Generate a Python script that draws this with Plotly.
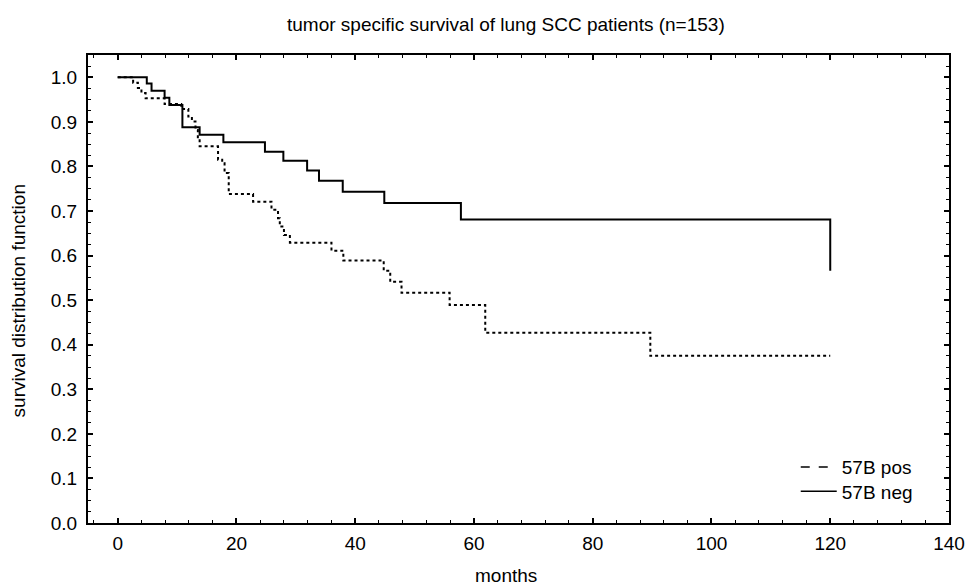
import plotly.graph_objects as go

# Kaplan-Meier step data
neg_months = [0, 4.9, 5.7, 7.9, 8.7, 10.9, 13.8, 17.8, 24.8, 27.9, 31.9, 33.9, 37.9, 44.9, 57.8, 120, 120]
neg_surv = [1.0, 0.986, 0.970, 0.954, 0.938, 0.888, 0.871, 0.854, 0.833, 0.813, 0.791, 0.768, 0.743, 0.718, 0.681, 0.681, 0.566]

pos_months = [0, 2.6, 3.4, 4.0, 4.7, 7.9, 10.7, 11.9, 12.5, 13.1, 13.5, 13.8, 16.9, 17.6, 18.0, 18.7,
              22.8, 25.9, 27.0, 27.3, 28.0, 29.0, 36.0, 38.0, 44.8, 45.9, 47.8, 55.9, 61.9, 89.7, 120]
pos_surv = [1.0, 0.988, 0.976, 0.965, 0.953, 0.940, 0.929, 0.912, 0.901, 0.882, 0.862, 0.845, 0.815, 0.807, 0.785, 0.738,
            0.721, 0.703, 0.684, 0.665, 0.646, 0.629, 0.611, 0.589, 0.566, 0.541, 0.5165, 0.489, 0.427, 0.375, 0.375]

series_names = ["57B pos", "57B neg"]
title_text = "tumor specific survival of lung SCC patients (n=153)"
x_title = "months"
y_title = "survival distribution function"
x_ticks = [0, 20, 40, 60, 80, 100, 120, 140]
y_ticks = [0.0, 0.1, 0.2, 0.3, 0.4, 0.5, 0.6, 0.7, 0.8, 0.9, 1.0]

FONT = "Liberation Sans, Arial, Helvetica, sans-serif"
FS = 19

fig = go.Figure()
fig.add_trace(go.Scatter(x=pos_months, y=pos_surv, mode="lines", line_shape="hv",
                         line=dict(color="black", width=2, dash="dot"), showlegend=False))
fig.add_trace(go.Scatter(x=neg_months, y=neg_surv, mode="lines", line_shape="hv",
                         line=dict(color="black", width=2), showlegend=False))
# legend entries (one legend per row so each row can be placed exactly)
fig.add_trace(go.Scatter(x=[None], y=[None], mode="lines", name=series_names[0], legend="legend",
                         line=dict(color="black", width=1.5, dash="dash")))
fig.add_trace(go.Scatter(x=[None], y=[None], mode="lines", name=series_names[1], legend="legend2",
                         line=dict(color="black", width=1.5)))

axis_common = dict(showline=True, linecolor="black", linewidth=2, mirror="allticks",
                   ticks="inside", ticklen=5, tickwidth=1.5, tickcolor="black",
                   showgrid=False, zeroline=False, automargin=False,
                   tickfont=dict(family=FONT, size=FS, color="black"))

fig.update_xaxes(range=[-5, 140], tickvals=x_ticks, ticklabelstandoff=2,
                 minor=dict(dtick=4, tick0=0, ticks="inside", ticklen=3, tickcolor="black", tickwidth=1),
                 **axis_common)
fig.update_yaxes(range=[0, 1.05], tickvals=y_ticks, tickformat=".1f", ticklabelstandoff=5,
                 minor=dict(dtick=0.025, tick0=0, ticks="inside", ticklen=3, tickcolor="black", tickwidth=1),
                 **axis_common)

legend_common = dict(xanchor="left", yanchor="top", bgcolor="rgba(0,0,0,0)",
                     font=dict(family=FONT, size=FS, color="black"), itemwidth=36)

fig.update_layout(
    width=966, height=587,
    margin=dict(l=88, r=17, t=55, b=64, autoexpand=False),
    paper_bgcolor="white", plot_bgcolor="white",
    font=dict(family=FONT, size=FS, color="black"),
    legend=dict(x=0.822, y=0.160, **legend_common),
    legend2=dict(x=0.822, y=0.108, **legend_common),
    annotations=[
        dict(text=title_text, xref="paper", yref="paper", x=0.486, y=1.066,
             xanchor="center", yanchor="middle", showarrow=False, font=dict(size=FS)),
        dict(text=x_title, xref="paper", yref="paper", x=0.486, y=-0.112,
             xanchor="center", yanchor="middle", showarrow=False, font=dict(size=FS)),
        dict(text=y_title, xref="paper", yref="paper", x=-0.081, y=0.474, textangle=-90,
             xanchor="center", yanchor="middle", showarrow=False, font=dict(size=FS)),
    ],
)

# remove the default page margin so the 966x587 figure fills the window exactly
fig.write_html("out.html",
               config={"displayModeBar": False},
               post_script="document.body.style.margin='0';document.body.style.overflow='hidden';")
